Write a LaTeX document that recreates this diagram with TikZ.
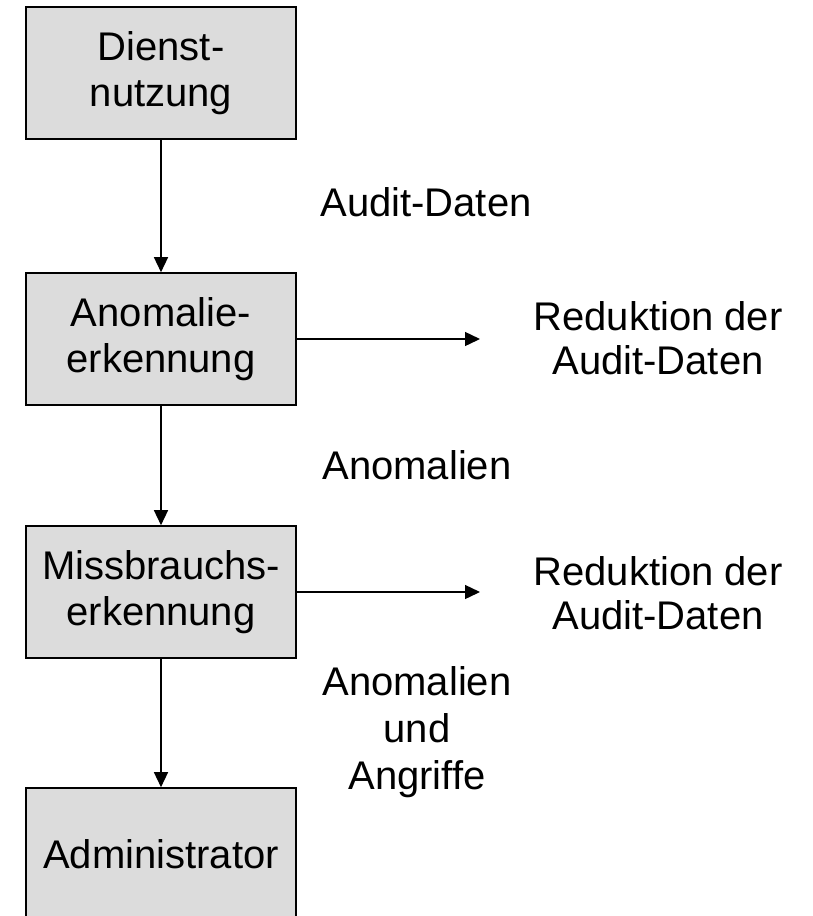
\documentclass[tikz,border=0pt]{standalone}
\usepackage{fontspec}
\setmainfont{Liberation Sans}
\usetikzlibrary{arrows.meta}
\definecolor{boxgray}{RGB}{220,220,220}
\begin{document}
\begin{tikzpicture}[
	x=1pt,
	y=-1pt,
	font=\fontsize{40}{44}\selectfont,
	box/.style={
		draw,
		rectangle,
		fill=boxgray,
		line width=1.6pt,
		align=center,
		inner sep=0pt,
		font=\fontsize{40}{46}\selectfont,
		minimum width=270pt,
		minimum height=132pt
	},
	txt/.style={
		align=center,
		inner sep=0pt
	},
	flow/.style={
		-{Triangle[length=15pt,width=14pt]},
		line width=1.4pt
	}
]
\useasboundingbox (0,0) rectangle (812,916);
\fill[white] (0,0) rectangle (812,916);
\clip (0,0) rectangle (812,916);

% boxes
\node[box] (dienst)   at (161,73)  {Dienst-\\nutzung};
\node[box] (anomalie) at (161,339) {Anomalie-\\erkennung};
\node[box] (missb)    at (161,592) {Missbrauchs-\\erkennung};
\node[box] (admin)    at (161,854) {Administrator};

% texts
\node[txt] (audit)  at (426,202) {Audit-Daten};
\node[txt] (red1)   at (658,338) {Reduktion der\\Audit-Daten};
\node[txt] (anom)   at (417,465) {Anomalien};
\node[txt] (red2)   at (658,593) {Reduktion der\\Audit-Daten};
\node[txt] (angr)   at (417,732) {Anomalien\\[3pt]und\\[3pt]Angriffe};

\coordinate (e1) at (480,339);
\coordinate (e2) at (480,592);

\draw[flow] (dienst) -- (anomalie);
\draw[flow] (anomalie) -- (missb);
\draw[flow] (missb) -- (admin);
\draw[flow] (anomalie) -- (e1);
\draw[flow] (missb) -- (e2);

\end{tikzpicture}
\end{document}
